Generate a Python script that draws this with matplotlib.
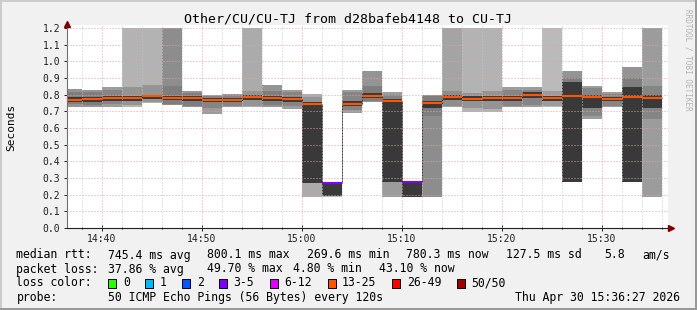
import numpy as np
import matplotlib
matplotlib.use('Agg')
import matplotlib.pyplot as plt
from matplotlib.patches import Rectangle

# end time of every 2 minute probe step
steps = ['14:38', '14:40', '14:42', '14:44', '14:46', '14:48', '14:50', '14:52',
         '14:54', '14:56', '14:58', '15:00', '15:02', '15:04', '15:06', '15:08',
         '15:10', '15:12', '15:14', '15:16', '15:18', '15:20', '15:22', '15:24',
         '15:26', '15:28', '15:30', '15:32', '15:34', '15:36']

# median rtt per step (seconds) and lost pings out of 50
median_rtt = [0.768, 0.774, 0.780, 0.780, 0.790, 0.780, 0.780, 0.768,
              0.768, 0.788, 0.780, 0.774, 0.744, 0.268, 0.744, 0.794,
              0.764, 0.274, 0.752, 0.788, 0.776, 0.780, 0.780, 0.800,
              0.780, 0.794, 0.788, 0.774, 0.788, 0.780]
lost_pings = [22, 22, 20, 14, 14, 24, 22, 20, 20, 16, 22, 20, 17, 3, 20, 22,
              20, 4, 24, 19, 15, 15, 20, 20, 13, 22, 20, 20, 22, 21]

# smoke: spread of the single pings (outer pairs, middle pairs, inner pairs)
smoke_outer_lo = [0.728, 0.724, 0.728, 0.728, 0.748, 0.740, 0.724, 0.684,
                  0.724, 0.724, 0.728, 0.714, 0.184, 0.186, 0.690, 0.754,
                  0.184, 0.184, 0.184, 0.724, 0.698, 0.698, 0.724, 0.724,
                  0.724, 0.274, 0.654, 0.724, 0.274, 0.184]
smoke_outer_hi = [0.834, 0.828, 0.848, 1.200, 1.200, 1.200, 0.824, 0.798,
                  0.804, 1.200, 0.858, 0.828, 0.804, 0.278, 0.828, 0.944,
                  0.814, 0.278, 0.798, 1.200, 1.200, 1.200, 0.848, 0.844,
                  1.200, 0.944, 0.854, 0.814, 0.964, 1.200]
smoke_mid_lo = [0.742, 0.738, 0.742, 0.740, 0.755, 0.745, 0.735, 0.720,
                0.735, 0.735, 0.740, 0.730, 0.272, 0.188, 0.710, 0.765,
                0.278, 0.186, 0.674, 0.735, 0.720, 0.715, 0.735, 0.740,
                0.735, 0.274, 0.675, 0.735, 0.280, 0.654]
smoke_mid_hi = [0.818, 0.815, 0.830, 0.845, 0.856, 0.850, 0.810, 0.790,
                0.795, 0.820, 0.820, 0.815, 0.785, 0.276, 0.815, 0.850,
                0.800, 0.276, 0.790, 0.820, 0.810, 0.820, 0.830, 0.830,
                0.820, 0.900, 0.840, 0.805, 0.900, 0.850]
smoke_core_lo = [0.755, 0.758, 0.765, 0.765, 0.775, 0.768, 0.765, 0.755,
                 0.758, 0.770, 0.765, 0.758, 0.272, 0.190, 0.735, 0.780,
                 0.278, 0.188, 0.720, 0.770, 0.760, 0.765, 0.765, 0.780,
                 0.765, 0.274, 0.720, 0.760, 0.274, 0.720]
smoke_core_hi = [0.785, 0.785, 0.790, 0.795, 0.800, 0.795, 0.790, 0.780,
                 0.780, 0.800, 0.790, 0.785, 0.755, 0.274, 0.760, 0.810,
                 0.775, 0.274, 0.765, 0.800, 0.790, 0.795, 0.795, 0.815,
                 0.795, 0.874, 0.800, 0.785, 0.848, 0.795]

loss_labels = ['0', '1', '2', '3-5', '6-12', '13-25', '26-49', '50/50']
loss_limits = [0, 1, 2, 3, 6, 13, 26, 50]
loss_colors = ['#26ff00', '#00b8ff', '#0059ff', '#7e00ff', '#dd00ff',
               '#ff5500', '#ff0000', '#a00000']

tick_times = ['14:40', '14:50', '15:00', '15:10', '15:20', '15:30']

stats_rtt = ['745.4 ms avg', '800.1 ms max', '269.6 ms min', '780.3 ms now',
             '127.5 ms sd', '5.8', 'am/s']
stats_loss = ['37.86 % avg', '49.70 % max', '4.80 % min', '43.10 % now']
probe_text = '50 ICMP Echo Pings (56 Bytes) every 120s'
stamp = 'Thu Apr 30 15:36:27 2026'
title = 'Other/CU/CU-TJ from d28bafeb4148 to CU-TJ'

MONO = 'DejaVu Sans Mono'
W, H = 697, 310


def minutes(s):
    h, m = s.split(':')
    return (int(h) - 14) * 60 + int(m)


def pair_gray(pair):
    # smokeping shading: outer pairs light, inner pairs dark
    g = int(190 / 25 * (25 - pair)) + 50
    return '#%02x%02x%02x' % (g, g, g)


def loss_color(lost):
    c = loss_colors[0]
    for lim, col in zip(loss_limits, loss_colors):
        if lost >= lim:
            c = col
    return c


def fx(px):
    return px / W


def fy(py):
    return 1 - py / H


t_end = np.array([minutes(s) for s in steps], dtype=float)
t_start = t_end - 2

fig = plt.figure(figsize=(W / 100, H / 100), dpi=100, facecolor='#f1f1f1')

# plot area: 10 px per minute, 166.7 px per second of rtt
x0_px, x1_px, y0_px, y1_px = 67, 668, 228, 25
xmin = 40 - (101.7 - x0_px) / 10
xmax = xmin + (x1_px - x0_px) / 10
ymax = 1.2 * (y0_px - y1_px) / 200
ax = fig.add_axes([fx(x0_px), fy(y0_px), (x1_px - x0_px) / W, (y0_px - y1_px) / H])
ax.set_facecolor('white')
ax.set_xlim(xmin, xmax)
ax.set_ylim(0, ymax)

# smoke
for i in range(len(steps)):
    outer = lost_pings[i] // 2 + 1
    mid = outer + (24 - outer) // 4
    bands = [(smoke_outer_lo[i], smoke_outer_hi[i], pair_gray(outer)),
             (smoke_mid_lo[i], smoke_mid_hi[i], pair_gray(mid)),
             (smoke_core_lo[i], smoke_core_hi[i], pair_gray(24))]
    for k, (lo, hi, col) in enumerate(bands):
        ax.bar(t_start[i], hi - lo, width=2, bottom=lo, align='edge',
               color=col, linewidth=0, antialiased=False, zorder=1 + k * 0.1)

# thin median trace connecting the steps
xs = np.repeat(np.append(t_start, t_end[-1]), 2)[1:-1]
ys = np.repeat(median_rtt, 2)
ax.plot(xs, ys, color='#202020', lw=0.6, zorder=2)

# grid
for v in np.arange(0.1, 1.25, 0.1):
    ax.axhline(v, color='#e6a0a0', lw=0.72, ls=(0, (1, 2)), zorder=3)
for m in np.arange(38, 97, 2):
    major = m % 10 == 0
    ax.axvline(m, color='#e6a0a0' if major else '#c8c8c8', lw=0.72,
               ls=(0, (1, 2)), zorder=3)

# coloured median
ax.hlines(median_rtt, t_start, t_end, colors=[loss_color(l) for l in lost_pings],
          lw=1.5, zorder=4, capstyle='butt')

# axes
for s in ['top', 'right']:
    ax.spines[s].set_visible(False)
ax.spines['left'].set_color('#707070')
ax.spines['bottom'].set_color('#202020')
ax.spines['left'].set_linewidth(0.8)
ax.spines['bottom'].set_linewidth(0.8)
ax.plot([0], [1.005], marker='^', ms=4, color='#7f0000', transform=ax.transAxes,
        clip_on=False, zorder=6)
ax.plot([1.005], [0], marker='>', ms=4, color='#7f0000', transform=ax.transAxes,
        clip_on=False, zorder=6)

ax.set_yticks(np.arange(0, 1.25, 0.1))
ax.set_yticklabels(['%.1f' % v for v in np.arange(0, 1.25, 0.1)])
ax.set_xticks([minutes(s) for s in tick_times])
ax.set_xticklabels(tick_times)
ax.set_xticks(np.arange(38, 97, 2), minor=True)
ax.tick_params(axis='both', labelsize=7, colors='#202020')
ax.tick_params(axis='y', direction='out', length=2.5, width=0.7, pad=2.5)
ax.tick_params(axis='x', which='major', direction='inout', length=4, width=0.7, pad=2)
ax.tick_params(axis='x', which='minor', direction='inout', length=2, width=0.7)
for lab in ax.get_xticklabels() + ax.get_yticklabels():
    lab.set_family(MONO)

# texts
fig.text(fx(348), fy(18.5), title, family=MONO, fontsize=9.5, ha='center', va='center')
fig.text(fx(11), fy(127), 'Seconds', family=MONO, fontsize=8, rotation=90,
         ha='center', va='center')
fig.text(fx(688), fy(60), 'RRDTOOL / TOBI OETIKER', family=MONO, fontsize=5.5,
         rotation=270, ha='center', va='center', color='#b4b4b4')

fs = 8.3
row_y = [255, 269, 283, 297]
fig.text(fx(16.4), fy(row_y[0]), 'median rtt:', family=MONO, fontsize=fs, va='center')
for x, s in zip([107.6, 207, 306.7, 406, 505.8, 604.4, 642], stats_rtt):
    fig.text(fx(x), fy(row_y[0]), s, family=MONO, fontsize=fs, va='center')
fig.text(fx(16.4), fy(row_y[1]), 'packet loss:', family=MONO, fontsize=fs, va='center')
for x, s in zip([107.6, 207, 293, 378.7], stats_loss):
    fig.text(fx(x), fy(row_y[1]), s, family=MONO, fontsize=fs, va='center')
fig.text(fx(16.4), fy(row_y[2]), 'loss color:', family=MONO, fontsize=fs, va='center')
x = 108.4
for lab, col in zip(loss_labels, loss_colors):
    fig.patches.append(Rectangle((fx(x), fy(row_y[2] + 4.5)), 8 / W, 9 / H,
                                 transform=fig.transFigure, facecolor=col,
                                 edgecolor='black', linewidth=0.7))
    fig.text(fx(x + 14.6), fy(row_y[2]), lab, family=MONO, fontsize=fs, va='center')
    x = x + 14.6 + len(lab) * 6.96 + 15.3
fig.text(fx(16.4), fy(row_y[3]), 'probe:', family=MONO, fontsize=fs, va='center')
fig.text(fx(107.6), fy(row_y[3]), probe_text, family=MONO, fontsize=fs, va='center')
fig.text(fx(680), fy(row_y[3]), stamp, family=MONO, fontsize=fs, va='center', ha='right')

# 3d frame of the canvas
for (x, y, w, h, c) in [(0, 0, W, 2, '#cbcbcb'), (0, 0, 2, H, '#cbcbcb'),
                        (0, H - 2, W, 2, '#999999'), (W - 2, 0, 2, H, '#999999')]:
    fig.patches.append(Rectangle((fx(x), fy(y + h)), w / W, h / H,
                                 transform=fig.transFigure, facecolor=c,
                                 linewidth=0))

fig.savefig('out.png', dpi=100, facecolor=fig.get_facecolor())
